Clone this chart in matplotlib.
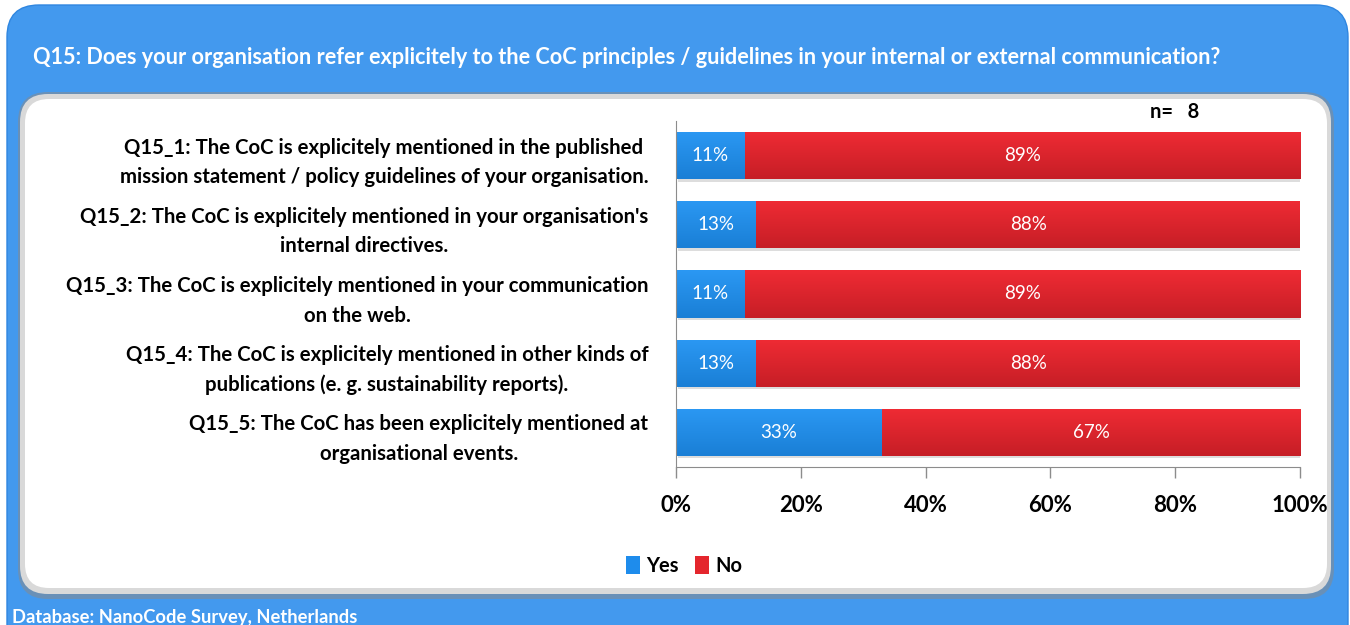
import numpy as np
import matplotlib.pyplot as plt
from matplotlib.patches import FancyBboxPatch
from matplotlib.colors import LinearSegmentedColormap

plt.rcParams['font.family'] = ['Lato', 'DejaVu Sans']

title = ("Q15: Does your organisation refer explicitely to the CoC principles / "
         "guidelines in your internal or external communication?")
questions = [
    "Q15_1: The CoC is explicitely mentioned in the published\nmission statement / policy guidelines of your organisation.",
    "Q15_2: The CoC is explicitely mentioned in your organisation's\ninternal directives.",
    "Q15_3: The CoC is explicitely mentioned in your communication\non the web.",
    "Q15_4: The CoC is explicitely mentioned in other kinds of\npublications (e. g. sustainability reports).",
    "Q15_5: The CoC has been explicitely mentioned at\norganisational events.",
]
yes = [11, 13, 11, 13, 33]
no = [89, 88, 89, 88, 67]
series_names = ["Yes", "No"]
n_respondents = 8
footer = "Database: NanoCode Survey, Netherlands"

blue = "#1e8cec"
red = "#e4262d"
panel_blue = "#4399ee"
blue_grad = LinearSegmentedColormap.from_list("bg", ["#2b98f3", "#1a7fd6"])
red_grad = LinearSegmentedColormap.from_list("rg", ["#ef2b34", "#c61e26"])

fig = plt.figure(figsize=(13.5, 6.25), dpi=100)

# background panels drawn in pixel coordinates
bg = fig.add_axes([0, 0, 1, 1])
bg.set_xlim(0, 1350)
bg.set_ylim(625, 0)
bg.axis("off")
bg.add_patch(FancyBboxPatch((7, 5), 1341, 680, boxstyle="round,pad=0,rounding_size=32",
                            fc=panel_blue, ec="#2f86e0", lw=1.0))
bg.add_patch(FancyBboxPatch((18, 92), 1316, 507, boxstyle="round,pad=0,rounding_size=30",
                            fc="#8a8a8a", ec="none", alpha=0.55))
bg.add_patch(FancyBboxPatch((20, 94), 1311, 500, boxstyle="round,pad=0,rounding_size=28",
                            fc="#d9d9d9", ec="none"))
bg.add_patch(FancyBboxPatch((25, 99), 1302, 489, boxstyle="round,pad=0,rounding_size=24",
                            fc="white", ec="none"))
bg.text(33, 57, title, color="white", fontsize=15.6, fontweight="bold", va="center", ha="left")
bg.text(12, 617, footer, color="white", fontsize=13.2, fontweight="bold", va="center", ha="left")
bg.text(1150, 112, f"n=   {n_respondents}", color="black", fontsize=14.5, fontweight="bold",
        va="center", ha="left")

# stacked 100% bars
ax = fig.add_axes([676 / 1350, 1 - 467 / 625, 624 / 1350, 346 / 625])
ax.patch.set_alpha(0)
yes_a = np.array(yes, dtype=float)
no_a = np.array(no, dtype=float)
total = yes_a + no_a
yes_pct = yes_a / total * 100
no_pct = no_a / total * 100
pos = np.arange(len(questions))
h = 0.68

# soft drop shadow under each bar
ax.barh(pos + 0.035, yes_pct + no_pct, height=h, left=0.3, color="#bdbdbd", alpha=0.5, zorder=1)
b1 = ax.barh(pos, yes_pct, height=h, color=blue, label=series_names[0], zorder=2)
b2 = ax.barh(pos, no_pct, height=h, left=yes_pct, color=red, label=series_names[1], zorder=2)

# vertical gradient fill, clipped to each bar
grad = np.linspace(0, 1, 64).reshape(-1, 1)
for bars, cmap in [(b1, blue_grad), (b2, red_grad)]:
    for p in bars.patches:
        x0, y0 = p.get_x(), p.get_y()
        im = ax.imshow(grad, cmap=cmap, aspect="auto", origin="upper", zorder=2.5,
                       extent=(x0, x0 + p.get_width(), y0 + p.get_height(), y0))
        im.set_clip_path(p)

for i in range(len(questions)):
    ax.text(yes_pct[i] / 2, pos[i], f"{yes[i]}%", color="white", fontsize=13.5,
            ha="center", va="center", zorder=3)
    ax.text(yes_pct[i] + no_pct[i] / 2, pos[i], f"{no[i]}%", color="white", fontsize=13.5,
            ha="center", va="center", zorder=3)

ax.set_xlim(0, 100)
ax.set_ylim(len(questions) - 0.5, -0.5)
ax.set_xticks(np.arange(0, 101, 20))
ax.set_xticklabels([f"{v}%" for v in range(0, 101, 20)], fontsize=16, fontweight="bold")
ax.tick_params(axis="x", direction="out", length=8, width=1, color="#8c8c8c", pad=12)
ax.set_yticks(pos)
ax.set_yticklabels(questions, fontsize=14.7, fontweight="bold", multialignment="center",
                   linespacing=1.6)
ax.tick_params(axis="y", length=0, pad=20)
for side in ["top", "right"]:
    ax.spines[side].set_visible(False)
ax.spines["left"].set_color("#8c8c8c")
ax.spines["bottom"].set_color("#8c8c8c")

leg = fig.legend(handles=[b1, b2], labels=series_names, loc="center",
                 bbox_to_anchor=(684 / 1350, 1 - 566 / 625), ncol=2, frameon=False,
                 prop={"weight": "bold", "size": 14.5}, handlelength=0.7, handleheight=1.0,
                 handletextpad=0.3, columnspacing=0.8)

fig.savefig("out.png", dpi=100)
